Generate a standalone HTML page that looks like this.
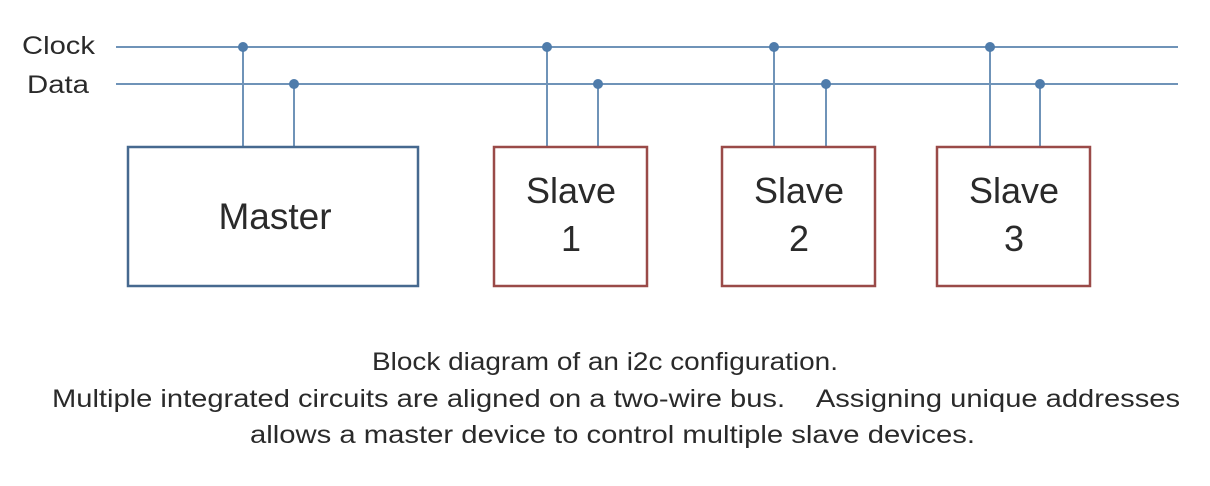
<!DOCTYPE html>
<html><head><style>
html,body{margin:0;padding:0;background:#fff;}
svg{display:block;}
text{font-family:"Liberation Sans",Arial,sans-serif;fill:#2a2a2a;}
</style></head><body>
<svg width="1210" height="486" viewBox="0 0 1210 486" xmlns="http://www.w3.org/2000/svg">
<rect width="1210" height="486" fill="#fff"/>
<g stroke="#6f93b8" stroke-width="2" fill="none">
<line x1="116" y1="47" x2="1178" y2="47"/>
<line x1="116" y1="84" x2="1178" y2="84"/>
<line x1="243" y1="47" x2="243" y2="147"/><line x1="294" y1="84" x2="294" y2="147"/>
<line x1="547" y1="47" x2="547" y2="147"/><line x1="598" y1="84" x2="598" y2="147"/>
<line x1="774" y1="47" x2="774" y2="147"/><line x1="826" y1="84" x2="826" y2="147"/>
<line x1="990" y1="47" x2="990" y2="147"/><line x1="1040" y1="84" x2="1040" y2="147"/>
</g>
<g fill="#4f7cab">
<circle cx="243" cy="47" r="5"/><circle cx="294" cy="84" r="5"/>
<circle cx="547" cy="47" r="5"/><circle cx="598" cy="84" r="5"/>
<circle cx="774" cy="47" r="5"/><circle cx="826" cy="84" r="5"/>
<circle cx="990" cy="47" r="5"/><circle cx="1040" cy="84" r="5"/>
</g>
<rect x="128" y="147" width="290" height="139" fill="none" stroke="#46698f" stroke-width="2.5"/>
<g fill="none" stroke="#9a4a48" stroke-width="2.5">
<rect x="494" y="147" width="153" height="139"/>
<rect x="722" y="147" width="153" height="139"/>
<rect x="937" y="147" width="153" height="139"/>
</g>
<text x="95" y="54" font-size="25" text-anchor="end" textLength="73" lengthAdjust="spacingAndGlyphs">Clock</text>
<text x="89" y="93" font-size="25" text-anchor="end" textLength="62" lengthAdjust="spacingAndGlyphs">Data</text>
<text x="275" y="229" font-size="37" text-anchor="middle">Master</text>
<g font-size="36" text-anchor="middle">
<text x="571" y="203">Slave</text><text x="571" y="251">1</text>
<text x="799" y="203">Slave</text><text x="799" y="251">2</text>
<text x="1014" y="203">Slave</text><text x="1014" y="251">3</text>
</g>
<g font-size="25">
<text x="372" y="370" textLength="466" lengthAdjust="spacingAndGlyphs">Block diagram of an i2c configuration.</text>
<text x="52" y="407" textLength="1128" lengthAdjust="spacingAndGlyphs" xml:space="preserve">Multiple integrated circuits are aligned on a two-wire bus.    Assigning unique addresses</text>
<text x="250" y="443" textLength="725" lengthAdjust="spacingAndGlyphs">allows a master device to control multiple slave devices.</text>
</g>
</svg>
</body></html>
